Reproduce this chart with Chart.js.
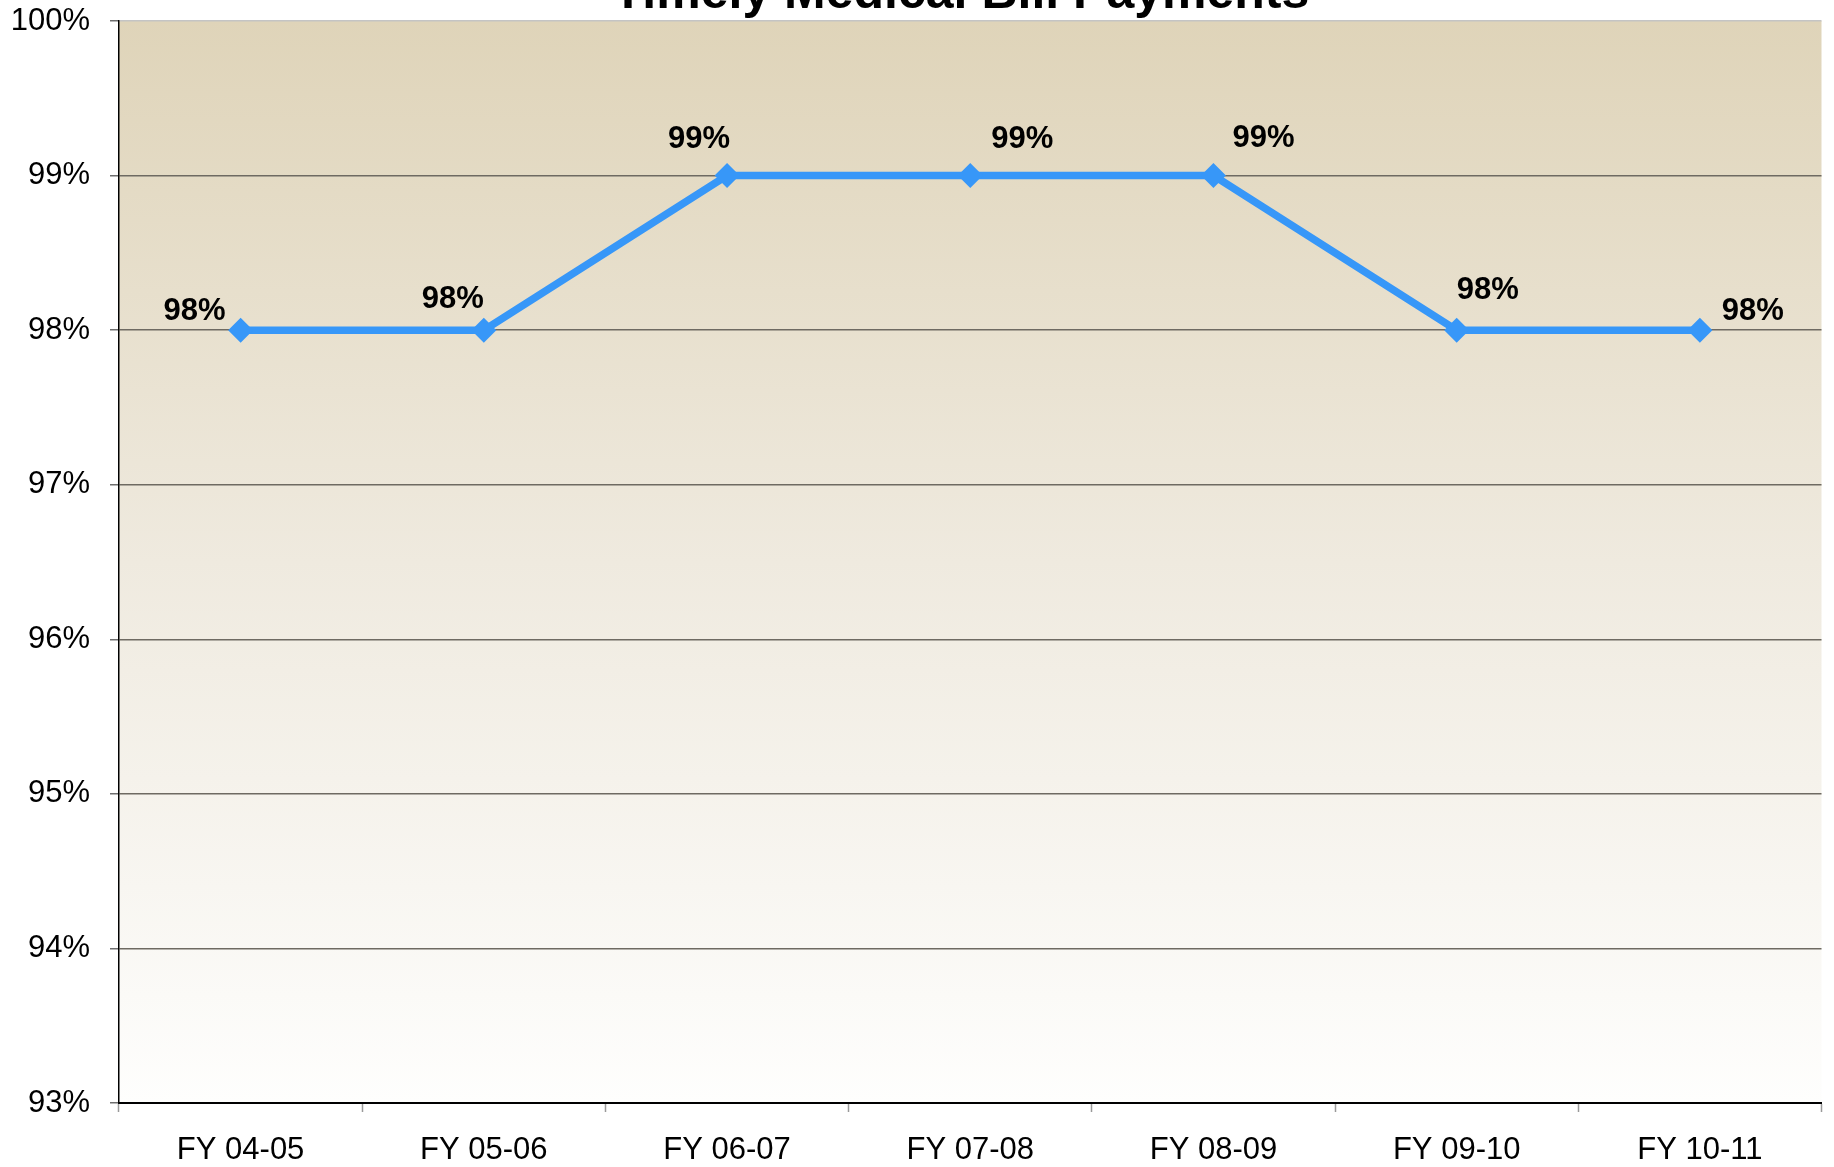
<!DOCTYPE html>
<html>
<head>
<meta charset="utf-8">
<script src="https://cdn.jsdelivr.net/npm/chart.js@4"></script>
<style>
  html, body { margin: 0; padding: 0; background: #ffffff; }
  #wrap { position: relative; width: 1834px; height: 1167px; overflow: hidden; }
  canvas { display: block; }
</style>
</head>
<body>
<div id="wrap"><canvas id="chart" width="1834" height="1167"></canvas></div>
<script>
// Chart data
const chartTitle = 'Timely Medical Bill Payments';
const categories = ['FY 04-05', 'FY 05-06', 'FY 06-07', 'FY 07-08', 'FY 08-09', 'FY 09-10', 'FY 10-11'];
const paymentRates = [98, 98, 99, 99, 99, 98, 98];
const yTicks = [93, 94, 95, 96, 97, 98, 99, 100];

// where each value label sits relative to its point (dx, dy)
const labelOffsets = [[-46, -19], [-31, -31], [-28, -36], [52, -36], [50, -37], [31, -40], [53, -19]];

const FONT = '"Liberation Sans", Arial, sans-serif';

// Plot background: tan fading to white
const backgroundPlugin = {
    id: 'plotBackground',
    beforeDraw(chart) {
        const { ctx, chartArea: a } = chart;
        const grad = ctx.createLinearGradient(0, a.top, 0, a.bottom);
        grad.addColorStop(0, '#dfd4b9');
        grad.addColorStop(0.5, '#efeadf');
        grad.addColorStop(1, '#fefefd');
        ctx.save();
        ctx.fillStyle = grad;
        ctx.fillRect(a.left, a.top, a.right - a.left, a.bottom - a.top);
        ctx.restore();
    }
};

// Title sits mostly above the visible frame
const titlePlugin = {
    id: 'cutTitle',
    afterDraw(chart) {
        const ctx = chart.ctx;
        ctx.save();
        ctx.font = 'bold 50px ' + FONT;
        ctx.fillStyle = '#000';
        ctx.textAlign = 'center';
        ctx.textBaseline = 'alphabetic';
        ctx.fillText(chartTitle, 961, 8);
        ctx.restore();
    }
};

// Value labels above the points
const valueLabelPlugin = {
    id: 'valueLabels',
    afterDatasetsDraw(chart) {
        const ctx = chart.ctx;
        const meta = chart.getDatasetMeta(0);
        ctx.save();
        ctx.font = 'bold 31px ' + FONT;
        ctx.fillStyle = '#000';
        ctx.textAlign = 'center';
        ctx.textBaseline = 'middle';
        meta.data.forEach((pt, i) => {
            const off = labelOffsets[i];
            ctx.fillText(paymentRates[i] + '%', pt.x + off[0], pt.y + off[1]);
        });
        ctx.restore();
    }
};

new Chart(document.getElementById('chart'), {
    type: 'line',
    data: {
        labels: categories,
        datasets: [{
            data: paymentRates,
            borderColor: '#3797f8',
            backgroundColor: '#3797f8',
            borderWidth: 7.5,
            pointStyle: 'rectRot',
            pointRadius: 12.5,
            pointHoverRadius: 12.5,
            pointBorderWidth: 0,
            tension: 0,
            fill: false
        }]
    },
    options: {
        responsive: false,
        animation: false,
        events: [],
        layout: { padding: { top: 21, right: 1, bottom: 0, left: 0 } },
        plugins: {
            legend: { display: false },
            tooltip: { enabled: false }
        },
        scales: {
            x: {
                offset: true,
                grid: {
                    offset: true,
                    drawOnChartArea: false,
                    tickLength: 9,
                    tickColor: '#9a9a9a',
                    tickWidth: 1.5
                },
                border: { color: '#000', width: 2 },
                ticks: {
                    color: '#000',
                    padding: 20,
                    font: { family: FONT, size: 31 }
                },
                afterFit(scale) {
                    scale.height = 64;
                    scale.paddingLeft = 0;
                    scale.paddingRight = 0;
                }
            },
            y: {
                min: 93,
                max: 100,
                afterBuildTicks(scale) { scale.ticks = yTicks.map(v => ({ value: v })); },
                grid: {
                    color: ctx => (ctx.tick && ctx.tick.value === 100) ? '#c4c4c4' : '#6e6a62',
                    lineWidth: 1.5,
                    tickLength: 9,
                    tickColor: '#6e6e6e'
                },
                border: { color: '#000', width: 1.5 },
                ticks: {
                    color: '#000',
                    padding: 20,
                    font: { family: FONT, size: 31 },
                    callback: v => v + '%'
                },
                afterFit(scale) {
                    scale.width = 119;
                    scale.paddingTop = 0;
                    scale.paddingBottom = 0;
                }
            }
        }
    },
    plugins: [backgroundPlugin, valueLabelPlugin, titlePlugin]
});
</script>
</body>
</html>
